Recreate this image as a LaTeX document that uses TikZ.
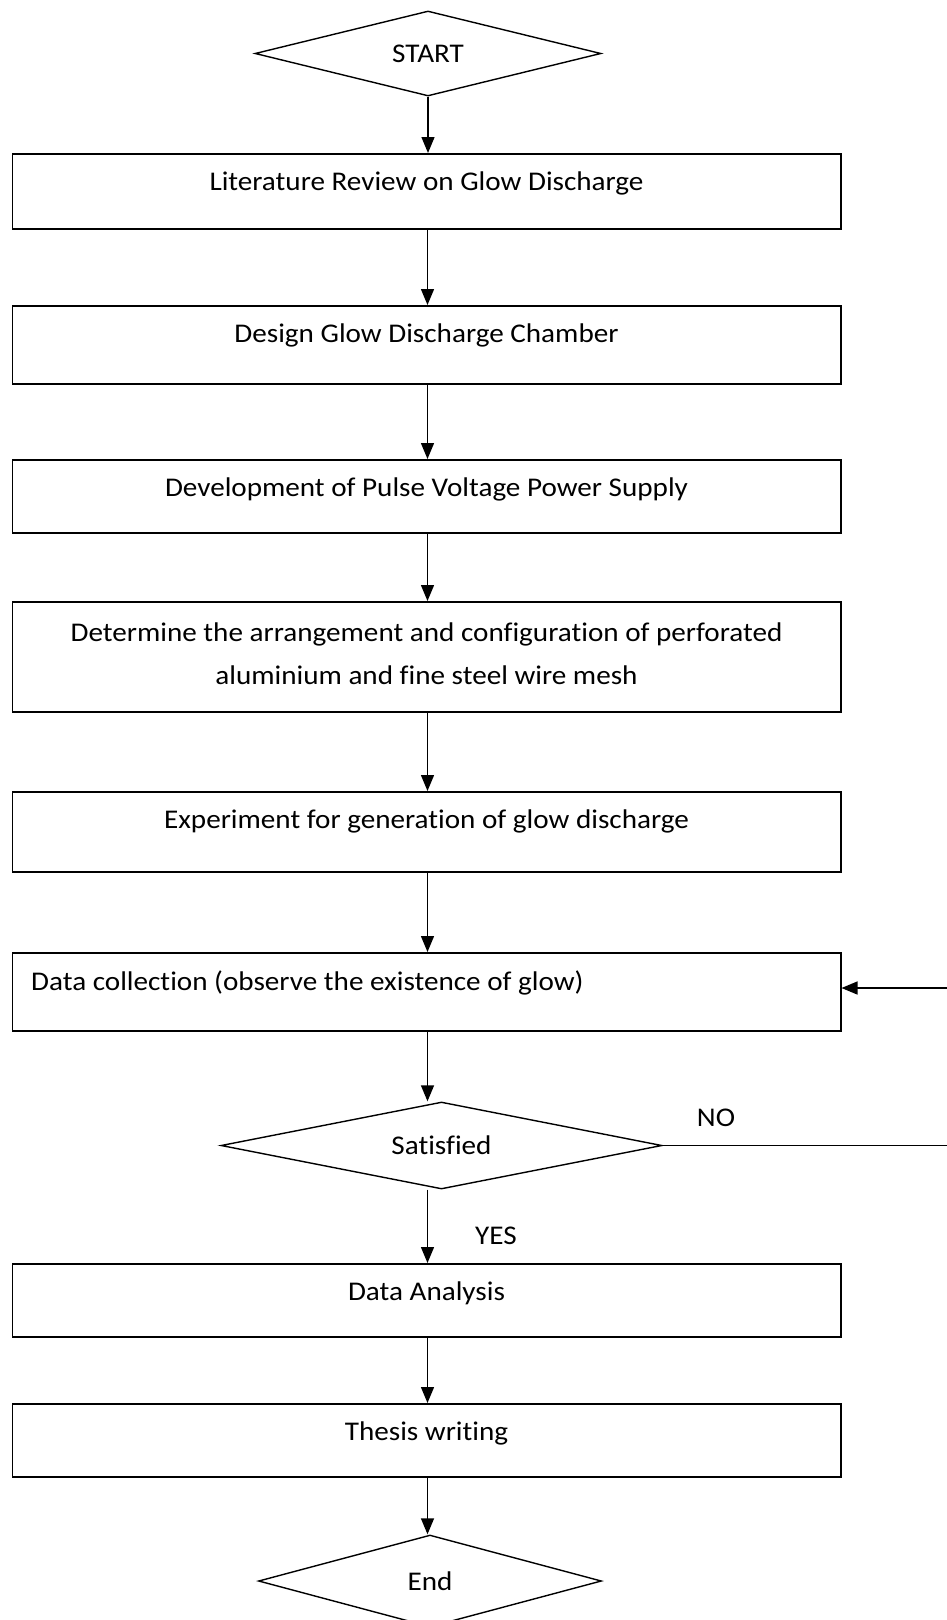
\documentclass[tikz,border=0pt]{standalone}
\usepackage{fontspec}
\setmainfont[FakeStretch=1.08, Ligatures={NoCommon}]{Carlito}
\usetikzlibrary{shapes.geometric,arrows.meta}
\begin{document}
\begin{tikzpicture}[x=1pt,y=-1pt,
  every node/.style={font=\fontsize{27}{43}\selectfont},
  box/.style={draw, line width=1.5pt, rectangle, inner sep=0pt, minimum width=828.5pt, anchor=north west},
  dia/.style={draw, line width=1.4pt, diamond, shape aspect=4, inner sep=0pt},
  arr/.style={line width=1.4pt, -{Triangle[length=16pt,width=13pt]}},
  plain/.style={line width=1.4pt},
  boxtext/.style={anchor=center, yshift=-30.5pt}
]
\useasboundingbox (0,0) rectangle (947,1620);
\coordinate (ax) at (427.5,0);

\node[dia, minimum width=346pt, minimum height=85pt] (start) at (428,53.5) {START};

\node[box, minimum height=75pt, label={[boxtext]north:Literature Review on Glow Discharge}] (b1) at (11.5,153) {};
\node[box, minimum height=78pt, label={[boxtext]north:Design Glow Discharge Chamber}] (b2) at (11.5,305) {};
\node[box, minimum height=73pt, label={[boxtext]north:Development of Pulse Voltage Power Supply}] (b3) at (11.5,459) {};
\node[box, minimum height=110pt, label={[anchor=center, yshift=-52.5pt, align=center]north:Determine the arrangement and configuration of perforated\\aluminium and fine steel wire mesh}] (b4) at (11.5,601) {};
\node[box, minimum height=80pt, label={[boxtext]north:Experiment for generation of glow discharge}] (b5) at (11.5,791) {};
\node[box, minimum height=78pt] (b6) at (11.5,952) {};
\node[anchor=west, inner sep=0pt] (t6) at (31,983) {Data collection (observe the existence of glow)};

\node[dia, minimum width=441pt, minimum height=87pt] (sat) at (441.5,1145.5) {Satisfied};

\node[box, minimum height=73pt, label={[boxtext]north:Data Analysis}] (b7) at (11.5,1263) {};
\node[box, minimum height=73pt, label={[boxtext]north:Thesis writing}] (b8) at (11.5,1403) {};

\node[dia, minimum width=343pt, minimum height=92pt] (endd) at (430,1581) {End};

\node (no) at (716,1118) {NO};
\node (yes) at (496,1236) {YES};

\coordinate (noR) at (947,1145.5);
\coordinate (backR) at (947,988);

\draw[arr] (start.south) -- (b1.north -| start.south);
\draw[arr] (b1.south -| ax) -- (b2.north -| ax);
\draw[arr] (b2.south -| ax) -- (b3.north -| ax);
\draw[arr] (b3.south -| ax) -- (b4.north -| ax);
\draw[arr] (b4.south -| ax) -- (b5.north -| ax);
\draw[arr] (b5.south -| ax) -- (b6.north -| ax);
\draw[arr] (b6.south -| ax) -- (sat.north -| ax);
\draw[arr] (sat.south -| ax) -- (b7.north -| ax);
\draw[arr] (b7.south -| ax) -- (b8.north -| ax);
\draw[arr] (b8.south -| ax) -- (endd.north -| ax);
\draw[plain] (sat.east) -- (noR);
\draw[arr] (backR) -- (b6.east |- backR);
\end{tikzpicture}
\end{document}
